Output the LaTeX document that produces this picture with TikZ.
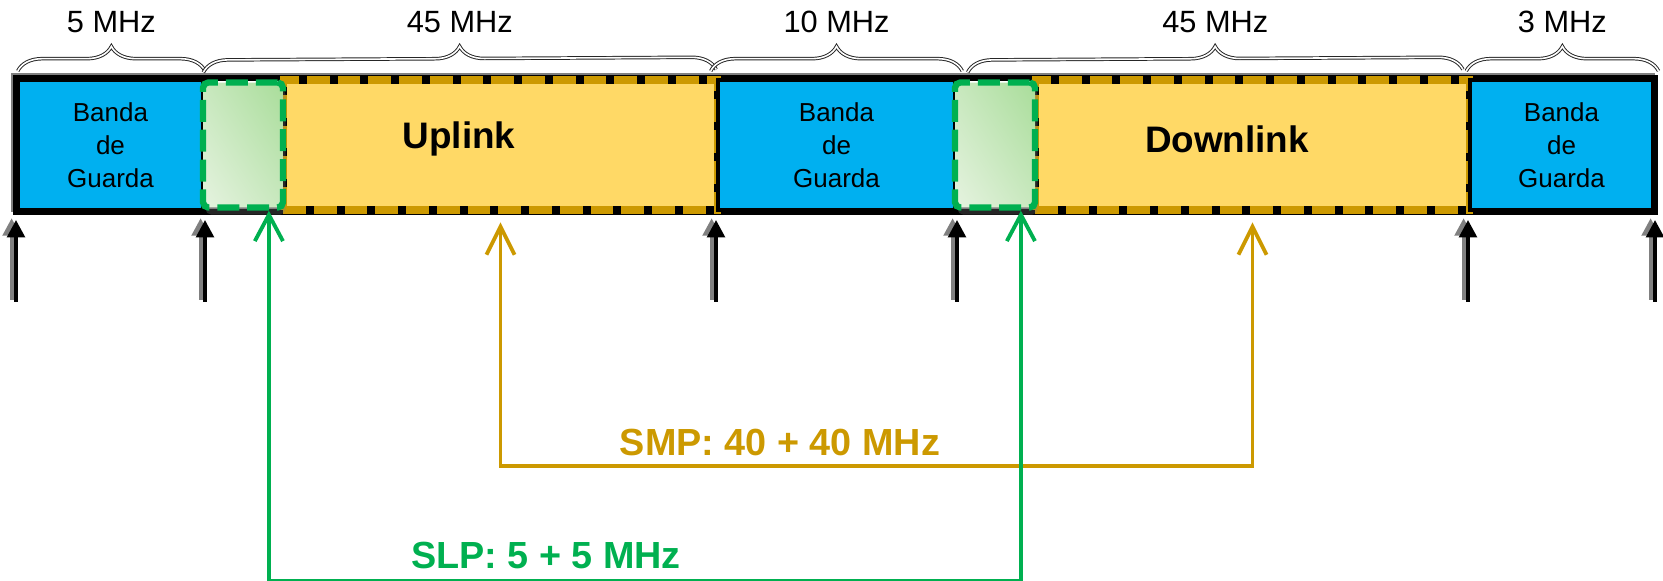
\documentclass[tikz,border=0pt]{standalone}
\usepackage{fontspec}
\setmainfont{Liberation Sans}
\usetikzlibrary{arrows.meta,positioning,calc,decorations.pathreplacing,shadows,shadings,backgrounds}

\definecolor{guardblue}{HTML}{00B0F0}
\definecolor{bandyellow}{HTML}{FFD966}
\definecolor{smpgold}{HTML}{CC9900}
\definecolor{slpgreen}{HTML}{00B050}
\definecolor{slplight}{HTML}{E6F3E0}
\definecolor{slpmid}{HTML}{C8E8BE}
\definecolor{slpdark}{HTML}{A9DD9A}

\begin{document}
\begin{tikzpicture}[x=0.02cm, y=-0.02cm,
    guard/.style={draw=black, line width=2.3pt, fill=guardblue, minimum height=2.6cm, inner sep=0pt, align=center, font=\fontsize{14.8}{18.7}\selectfont},
    band/.style={draw=black, line width=4pt, fill=bandyellow, minimum width=8.7cm, minimum height=2.6cm, inner sep=0pt,
        postaction={draw=smpgold, dash pattern=on 13pt off 4.5pt}},
    slpbox/.style={draw=slpgreen, line width=3.6pt, dash pattern=on 12.5pt off 4.5pt, rounded corners=3pt,
        upper right=slpdark, lower left=slplight, upper left=slpmid, lower right=slpmid, minimum width=1.6cm, minimum height=2.5cm, inner sep=0pt,
        drop shadow={shadow xshift=1.5pt, shadow yshift=-4pt, opacity=0.3}},
    bandlabel/.style={font=\fontsize{21}{25}\selectfont\bfseries},
    mhz/.style={font=\fontsize{17.5}{20}\selectfont},
    wbrace/.style={decorate, decoration={brace, amplitude=14pt}, draw=black!85, double=white, double distance=0.9pt, line width=0.55pt},
    tick/.style={-{Triangle[length=10pt, width=10pt]}, line width=2.3pt},
    tickshade/.style={tick, draw=gray, fill=gray},
    smplink/.style={{Straight Barb[length=16pt, width=16pt]}-{Straight Barb[length=16pt, width=16pt]}, draw=smpgold, line width=2.2pt},
    slplink/.style={{Straight Barb[length=15pt, width=16pt]}-{Straight Barb[length=15pt, width=16pt]}, draw=slpgreen, line width=2.2pt},
    smptext/.style={font=\fontsize{21.5}{25}\selectfont\bfseries, text=smpgold},
    slptext/.style={font=\fontsize{21.5}{25}\selectfont\bfseries, text=slpgreen}
]
\useasboundingbox (0,0) rectangle (1663,581);

% spectrum blocks
\node[guard, minimum width=3.7cm] (guard1) at (110.5,145) {Banda\\de\\Guarda};
\node[band] (uplink) at (500.5,145) {};
\node[guard, minimum width=4.74cm] (guard2) at (836.5,145) {Banda\\de\\Guarda};
\node[band] (downlink) at (1252.5,145) {};
\node[guard, minimum width=3.66cm] (guard3) at (1561.5,145) {Banda\\de\\Guarda};
\node[slpbox] (slp1) at (243,145) {};
\node[slpbox] (slp2) at (995,145) {};
\node[bandlabel] (ultxt) at (459,139) {Uplink};
\node[bandlabel] (dltxt) at (1227,139) {Downlink};

\begin{scope}[on background layer]
\draw[gray, line width=3pt] ([shift={(-1.5pt,1.5pt)}]guard1.north west) rectangle ([shift={(-1.5pt,1.5pt)}]guard3.south east);
\draw[black, line width=3pt] (guard1.north west) rectangle (guard3.south east);
\end{scope}

% widths
\draw[wbrace] ([shift={(1pt,4pt)}]guard1.north west) -- node[mhz, yshift=28pt] (w1) {5 MHz} ([shift={(0pt,4pt)}]guard1.north east);
\draw[wbrace] ([shift={(2pt,4pt)}]slp1.north west) -- node[mhz, yshift=28pt] (w2) {45 MHz} ([shift={(-3pt,4pt)}]uplink.north east);
\draw[wbrace] ([shift={(-3pt,4pt)}]guard2.north west) -- node[mhz, yshift=28pt] (w3) {10 MHz} ([shift={(3pt,4pt)}]guard2.north east);
\draw[wbrace] ([shift={(9pt,4pt)}]slp2.north west) -- node[mhz, yshift=28pt] (w4) {45 MHz} ([shift={(-6pt,4pt)}]downlink.north east);
\draw[wbrace] ([shift={(-1pt,4pt)}]guard3.north west) -- node[mhz, yshift=28pt] (w5) {3 MHz} ([shift={(2pt,4pt)}]guard3.north east);

% limits
\foreach \p in {guard1.south west, guard1.south east, guard2.south west, guard2.south east, guard3.south west, guard3.south east} {
  \draw[tickshade] ([shift={(-2.5pt,-50pt)}]\p) -- ([shift={(-2.5pt,-3.5pt)}]\p);
  \draw[tick] ([yshift=-51pt]\p) -- ([yshift=-4.5pt]\p);
}

% pairs
\draw[smplink] ([yshift=-5pt]uplink.south) -- ++(0,244) -| ([yshift=-5pt]downlink.south);
\node[smptext] (smp) at (780,442) {SMP: 40 + 40 MHz};

\coordinate (slpA) at ($(slp1.south west)!0.8!(slp1.south east)$);
\coordinate (slpB) at ($(slp2.south west)!0.8!(slp2.south east)$);
\draw[slplink] (slpA) -- ++(0,370.5) -| (slpB);
\node[slptext] (slp) at (546,555) {SLP: 5 + 5 MHz};
\end{tikzpicture}
\end{document}
